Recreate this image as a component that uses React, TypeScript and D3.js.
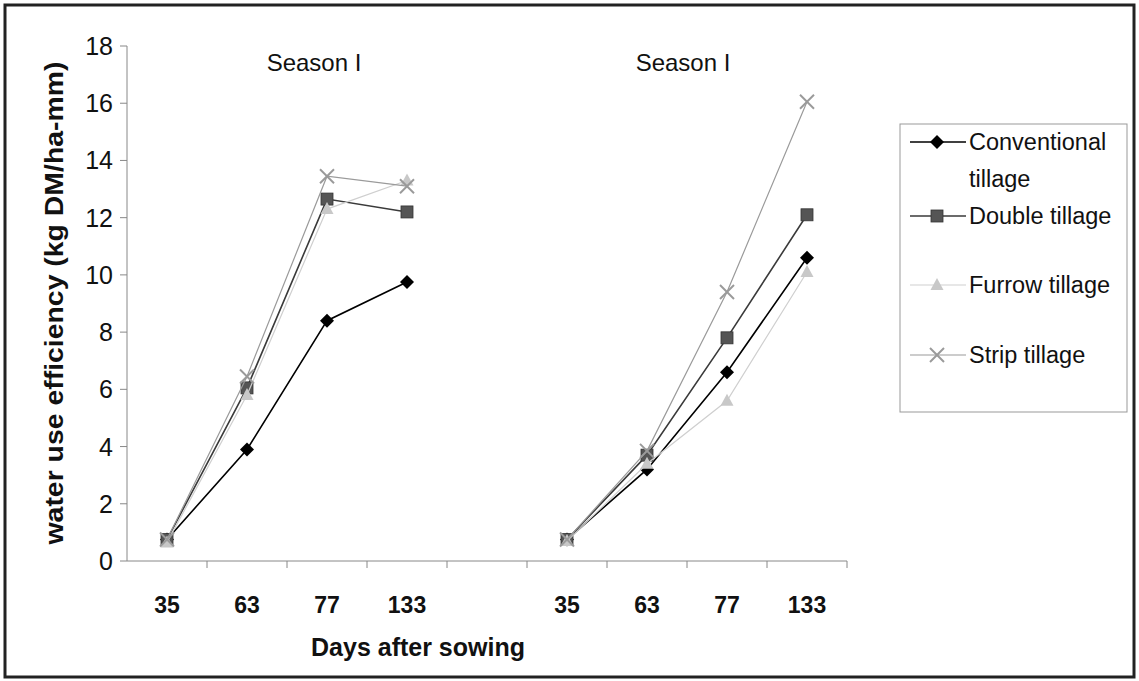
import React from 'react';
import * as d3 from 'd3';

// category slots on the x axis: season panel 1, an empty gap, season panel 2
const categories = ['35a', '63a', '77a', '133a', 'gap', '35b', '63b', '77b', '133b'];
const tickLabels = ['35', '63', '77', '133', '', '35', '63', '77', '133'];
const leftSlots = ['35a', '63a', '77a', '133a'];
const rightSlots = ['35b', '63b', '77b', '133b'];

const conventionalL = [0.75, 3.9, 8.4, 9.75];
const doubleL = [0.75, 6.05, 12.65, 12.2];
const furrowL = [0.65, 5.8, 12.3, 13.3];
const stripL = [0.75, 6.45, 13.45, 13.1];

const conventionalR = [0.75, 3.2, 6.6, 10.6];
const doubleR = [0.75, 3.7, 7.8, 12.1];
const furrowR = [0.7, 3.4, 5.6, 10.1];
const stripR = [0.75, 3.85, 9.4, 16.05];

const yTicks = [0, 2, 4, 6, 8, 10, 12, 14, 16, 18];

type Marker = 'diamond' | 'square' | 'triangle' | 'cross';
const series: { name: string[]; left: number[]; right: number[]; color: string; marker: Marker; fill: string; width: number }[] = [
  { name: ['Conventional', 'tillage'], left: conventionalL, right: conventionalR, color: '#000000', marker: 'diamond', fill: '#000000', width: 1.6 },
  { name: ['Double tillage'], left: doubleL, right: doubleR, color: '#3a3a3a', marker: 'square', fill: '#555555', width: 1.6 },
  { name: ['Furrow tillage'], left: furrowL, right: furrowR, color: '#cfcfcf', marker: 'triangle', fill: '#c8c8c8', width: 1.2 },
  { name: ['Strip tillage'], left: stripL, right: stripR, color: '#9a9a9a', marker: 'cross', fill: 'none', width: 1.2 },
];

const W = 1139;
const H = 681;
const plot = { left: 127, right: 847, top: 46, bottom: 561 };

function MarkerShape({ type, x, y, color, fill }: { type: Marker; x: number; y: number; color: string; fill: string }) {
  if (type === 'diamond') {
    return <path d={`M${x},${y - 7}L${x + 7},${y}L${x},${y + 7}L${x - 7},${y}Z`} fill={fill} />;
  }
  if (type === 'square') {
    return <rect x={x - 6} y={y - 6} width={12} height={12} fill={fill} stroke="#333" strokeWidth={0.8} />;
  }
  if (type === 'triangle') {
    return <path d={`M${x},${y - 7}L${x + 6.5},${y + 5}L${x - 6.5},${y + 5}Z`} fill={fill} />;
  }
  return (
    <g stroke={color} strokeWidth={2}>
      <line x1={x - 7} y1={y - 7} x2={x + 7} y2={y + 7} />
      <line x1={x - 7} y1={y + 7} x2={x + 7} y2={y - 7} />
    </g>
  );
}

export default function App() {
  const x = d3.scaleBand<string>().domain(categories).range([plot.left, plot.right]).paddingInner(0).paddingOuter(0);
  const y = d3.scaleLinear().domain([0, 18]).range([plot.bottom, plot.top]);
  const cx = (c: string) => (x(c) ?? 0) + x.bandwidth() / 2;

  const line = d3
    .line<[string, number]>()
    .x((d) => cx(d[0]))
    .y((d) => y(d[1]));

  const legendRows = [142, 216, 285, 355];

  return (
    <svg width={W} height={H} style={{ position: 'absolute', left: 0, top: 0, background: '#fff' }} fontFamily="'Liberation Sans', Arial, sans-serif">
      <rect x={0} y={0} width={W} height={H} fill="#fff" />
      {/* outer frame */}
      <rect x={5} y={5} width={1129} height={672} fill="none" stroke="#222" strokeWidth={3} />

      {/* y axis */}
      <line x1={plot.left} x2={plot.left} y1={plot.top} y2={plot.bottom} stroke="#888" strokeWidth={1} />
      {yTicks.map((t) => (
        <g key={t}>
          <line x1={plot.left - 7} x2={plot.left} y1={y(t)} y2={y(t)} stroke="#888" />
          <text x={plot.left - 14} y={y(t)} dy="0.36em" textAnchor="end" fontSize={25} fill="#111">
            {t}
          </text>
        </g>
      ))}

      {/* x axis */}
      <line x1={plot.left} x2={plot.right} y1={plot.bottom} y2={plot.bottom} stroke="#888" strokeWidth={1} />
      {categories.map((c, i) => (
        <g key={c}>
          <line x1={(x(c) ?? 0) + x.bandwidth()} x2={(x(c) ?? 0) + x.bandwidth()} y1={plot.bottom} y2={plot.bottom + 7} stroke="#888" />
          <text x={cx(c)} y={613} textAnchor="middle" fontSize={23} fontWeight="bold" fill="#111">
            {tickLabels[i]}
          </text>
        </g>
      ))}

      {/* titles */}
      <text x={418} y={656} textAnchor="middle" fontSize={25} fontWeight="bold" fill="#111">
        Days after sowing
      </text>
      <text
        transform={`translate(63,303) rotate(-90)`}
        textAnchor="middle"
        fontSize={25}
        fontWeight="bold"
        fill="#111"
        textLength={483}
        lengthAdjust="spacingAndGlyphs"
      >
        water use efficiency (kg DM/ha-mm)
      </text>
      <text x={314} y={71} textAnchor="middle" fontSize={24} fill="#111">
        Season I
      </text>
      <text x={683} y={71} textAnchor="middle" fontSize={24} fill="#111">
        Season I
      </text>

      {/* series */}
      {series.map((s) => {
        const leftPts: [string, number][] = leftSlots.map((c, i) => [c, s.left[i]]);
        const rightPts: [string, number][] = rightSlots.map((c, i) => [c, s.right[i]]);
        return (
          <g key={s.name.join(' ')}>
            <path d={line(leftPts) ?? ''} fill="none" stroke={s.color} strokeWidth={s.width} />
            <path d={line(rightPts) ?? ''} fill="none" stroke={s.color} strokeWidth={s.width} />
            {[...leftPts, ...rightPts].map((p) => (
              <MarkerShape key={p[0]} type={s.marker} x={cx(p[0])} y={y(p[1])} color={s.color} fill={s.fill} />
            ))}
          </g>
        );
      })}

      {/* legend */}
      <rect x={900} y={124} width={227} height={288} fill="#fff" stroke="#999" strokeWidth={1} />
      {series.map((s, i) => (
        <g key={s.name[0]}>
          <line x1={910} x2={966} y1={legendRows[i]} y2={legendRows[i]} stroke={s.color} strokeWidth={s.width} />
          <MarkerShape type={s.marker} x={937} y={legendRows[i]} color={s.color} fill={s.fill} />
          {s.name.map((n, j) => (
            <text key={n} x={969} y={legendRows[i] + j * 37} dy="0.36em" fontSize={23.5} fill="#111">
              {n}
            </text>
          ))}
        </g>
      ))}
    </svg>
  );
}
